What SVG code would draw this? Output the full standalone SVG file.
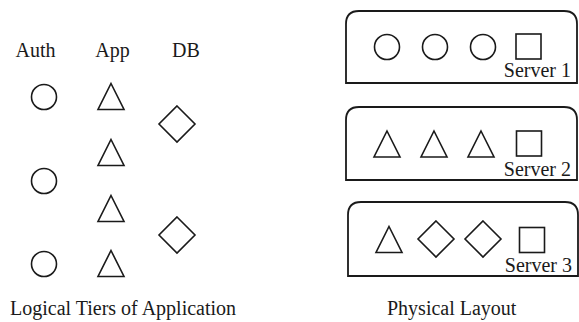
<svg xmlns="http://www.w3.org/2000/svg" width="579" height="322" viewBox="0 0 579 322">
<style>
.s{fill:none;stroke:#1a1a1a;stroke-width:1.6}
.b{fill:none;stroke:#1a1a1a;stroke-width:1.8}
.m{text-anchor:middle}
.e{text-anchor:end}
</style>
<defs>
<circle id="c" r="12.5" class="s"/>
<path id="t" d="M0,-13 L13,13 L-13,13 Z" class="s"/>
<path id="d" d="M0,-18 L18,0 L0,18 L-18,0 Z" class="s"/>
<rect id="q" x="-12.5" y="-12.5" width="25" height="25" class="s"/>
</defs>
<rect width="579" height="322" fill="#fff"/>
<g font-family="Liberation Serif, Times New Roman, DejaVu Serif, serif" font-size="20" fill="#1a1a1a">
<g id="logical">
<text class="m" x="35.5" y="57">Auth</text>
<text class="m" x="112.5" y="57">App</text>
<text class="m" x="186" y="57">DB</text>
<g id="auth1"><use href="#c" x="44" y="97"/></g>
<g id="auth2"><use href="#c" x="44" y="181"/></g>
<g id="auth3"><use href="#c" x="44" y="264"/></g>
<g id="app1"><use href="#t" x="111" y="96.5"/></g>
<g id="app2"><use href="#t" x="111" y="152.5"/></g>
<g id="app3"><use href="#t" x="111" y="208.5"/></g>
<g id="app4"><use href="#t" x="111" y="263.5"/></g>
<g id="db1"><use href="#d" x="177" y="124"/></g>
<g id="db2"><use href="#d" x="177" y="235"/></g>
<text x="10" y="315">Logical Tiers of Application</text>
</g>
<g id="server1">
<path class="b" d="M346,83 V24 Q346,11 359,11 H564 Q577,11 577,24 V83 Z"/>
<use href="#c" x="387" y="47"/>
<use href="#c" x="435" y="47"/>
<use href="#c" x="483" y="47"/>
<use href="#q" x="528.5" y="46.5"/>
<text class="e" x="571" y="77">Server 1</text>
</g>
<g id="server2">
<path class="b" d="M346,180 V120 Q346,107 359,107 H564 Q577,107 577,120 V180 Z"/>
<use href="#t" x="387" y="144"/>
<use href="#t" x="434" y="144"/>
<use href="#t" x="481" y="144"/>
<use href="#q" x="529" y="143.5"/>
<text class="e" x="571" y="176">Server 2</text>
</g>
<g id="server3">
<path class="b" d="M348,276 V215 Q348,202 361,202 H565 Q578,202 578,215 V276 Z"/>
<use href="#t" x="389" y="239.5"/>
<use href="#d" x="436" y="239"/>
<use href="#d" x="483" y="239"/>
<use href="#q" x="532" y="240"/>
<text class="e" x="572" y="272">Server 3</text>
</g>
<text id="physical-label" x="387" y="315">Physical Layout</text>
</g>
</svg>
